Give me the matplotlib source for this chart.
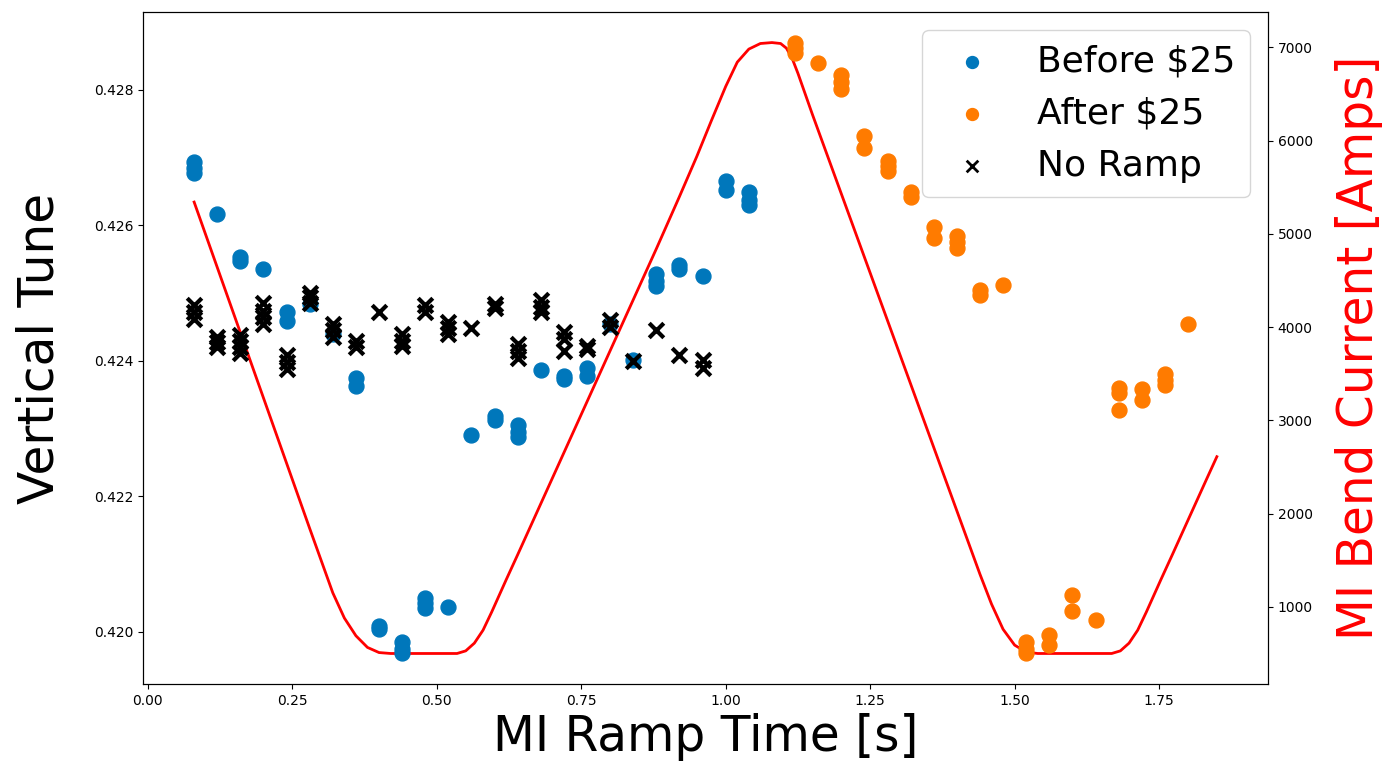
import matplotlib
matplotlib.use('Agg')
import matplotlib.pyplot as plt

# tune measurements, before the $25 change
before_t = [0.08, 0.08, 0.08, 0.12, 0.16, 0.16, 0.20, 0.24, 0.24, 0.28, 0.32,
            0.36, 0.36, 0.40, 0.40, 0.44, 0.44, 0.44, 0.48, 0.48, 0.48, 0.52,
            0.56, 0.60, 0.60, 0.64, 0.64, 0.64, 0.68, 0.72, 0.72, 0.76, 0.76,
            0.80, 0.84, 0.88, 0.88, 0.88, 0.92, 0.92, 0.96, 1.00, 1.00,
            1.04, 1.04, 1.04]
before_q = [0.42693, 0.42685, 0.42678, 0.42617, 0.42553, 0.42548, 0.42535,
            0.42472, 0.42459, 0.42484, 0.42439, 0.42375, 0.42363, 0.42009,
            0.42004, 0.41985, 0.41975, 0.41968, 0.42050, 0.42042, 0.42035,
            0.42036, 0.42291, 0.42318, 0.42312, 0.42305, 0.42295, 0.42288,
            0.42386, 0.42378, 0.42374, 0.42390, 0.42377, 0.42454, 0.42402,
            0.42528, 0.42518, 0.42510, 0.42542, 0.42535, 0.42525, 0.42665,
            0.42652, 0.42650, 0.42638, 0.42630]

# tune measurements, after the $25 change
after_t = [1.12, 1.12, 1.12, 1.16, 1.20, 1.20, 1.20, 1.24, 1.24, 1.28, 1.28,
           1.28, 1.32, 1.32, 1.36, 1.36, 1.40, 1.40, 1.40, 1.44, 1.44, 1.48,
           1.52, 1.52, 1.52, 1.56, 1.56, 1.60, 1.60, 1.64, 1.68, 1.68, 1.68,
           1.72, 1.72, 1.76, 1.76, 1.76, 1.80]
after_q = [0.42870, 0.42862, 0.42855, 0.42840, 0.42822, 0.42812, 0.42802,
           0.42732, 0.42715, 0.42695, 0.42688, 0.42680, 0.42650, 0.42642,
           0.42597, 0.42581, 0.42585, 0.42575, 0.42566, 0.42505, 0.42498,
           0.42512, 0.41985, 0.41975, 0.41968, 0.41996, 0.41981, 0.42055,
           0.42030, 0.42018, 0.42360, 0.42352, 0.42328, 0.42359, 0.42343,
           0.42380, 0.42372, 0.42365, 0.42454]

# no-ramp reference measurements
noramp_t = [0.08, 0.08, 0.08, 0.12, 0.12, 0.12, 0.16, 0.16, 0.16, 0.16,
            0.20, 0.20, 0.20, 0.20, 0.24, 0.24, 0.24, 0.28, 0.28, 0.28,
            0.32, 0.32, 0.32, 0.36, 0.36, 0.40, 0.44, 0.44, 0.44, 0.48, 0.48,
            0.52, 0.52, 0.52, 0.56, 0.60, 0.60, 0.64, 0.64, 0.64, 0.68, 0.68,
            0.68, 0.72, 0.72, 0.72, 0.76, 0.76, 0.80, 0.80, 0.84, 0.88, 0.92,
            0.96, 0.96]
noramp_q = [0.42483, 0.42472, 0.42462, 0.42436, 0.42428, 0.42420, 0.42438,
            0.42430, 0.42420, 0.42412, 0.42486, 0.42474, 0.42465, 0.42455,
            0.42408, 0.42398, 0.42388, 0.42500, 0.42494, 0.42486, 0.42455,
            0.42445, 0.42435, 0.42430, 0.42420, 0.42472, 0.42440, 0.42430,
            0.42422, 0.42483, 0.42472, 0.42458, 0.42448, 0.42440, 0.42448,
            0.42484, 0.42478, 0.42425, 0.42415, 0.42405, 0.42490, 0.42480,
            0.42472, 0.42442, 0.42432, 0.42415, 0.42422, 0.42418, 0.42460,
            0.42450, 0.42400, 0.42446, 0.42409, 0.42402, 0.42390]

# MI bend bus current
ramp_t = [0.08, 0.12, 0.16, 0.20, 0.24, 0.28, 0.32, 0.34, 0.36, 0.38, 0.40,
          0.42, 0.50, 0.535, 0.55, 0.565, 0.58, 0.595, 0.62, 0.64, 0.70,
          0.76, 0.82, 0.88, 0.92, 0.95, 0.975, 1.00, 1.02, 1.04, 1.06, 1.08,
          1.095, 1.105, 1.115, 1.125, 1.15, 1.18, 1.20, 1.25, 1.30, 1.35,
          1.40, 1.44, 1.46, 1.48, 1.50, 1.52, 1.54, 1.668, 1.683, 1.698,
          1.713, 1.728, 1.753, 1.773, 1.833, 1.85]
ramp_i = [5340, 4640, 3940, 3240, 2540, 1840, 1150, 880, 690, 565, 510,
          500, 500, 500, 528, 611, 750, 945, 1290, 1560, 2380,
          3200, 4020, 4840, 5400, 5830, 6210, 6580, 6840, 6980, 7040, 7050,
          7040, 6990, 6880, 6720, 6280, 5770, 5430, 4580, 3730, 2880,
          2030, 1350, 1030, 760, 590, 515, 500, 500, 528, 611,
          750, 945, 1290, 1560, 2380, 2610]

fig = plt.figure(figsize=(13.87, 7.71), dpi=100)
ax = fig.add_axes([0.1031, 0.1128, 0.8111, 0.8716])

blue = '#0077bb'
orange = '#ff7b00'
ax.scatter(before_t, before_q, s=115, color=blue, label='Before \\$25')
ax.scatter(after_t, after_q, s=115, color=orange, label='After \\$25')
ax.scatter(noramp_t, noramp_q, s=110, marker='x', color='black',
           linewidths=3, label='No Ramp')
ax.set_xlabel('MI Ramp Time [s]', fontsize=35, labelpad=4)
ax.set_ylabel('Vertical Tune', fontsize=35, labelpad=22)

ax2 = ax.twinx()
ax2.plot(ramp_t, ramp_i, color='red', lw=2)
ax2.set_ylabel('MI Bend Current [Amps]', fontsize=35, color='red',
               labelpad=16)

leg = ax.legend(loc='upper right', fontsize=26, markerscale=0.8)
for h in leg.legend_handles[2:]:
    h.set_linewidths(2)
leg.set_zorder(5)
ax.set_zorder(ax2.get_zorder() + 1)
ax.patch.set_visible(False)

fig.savefig('out.png', dpi=100)
